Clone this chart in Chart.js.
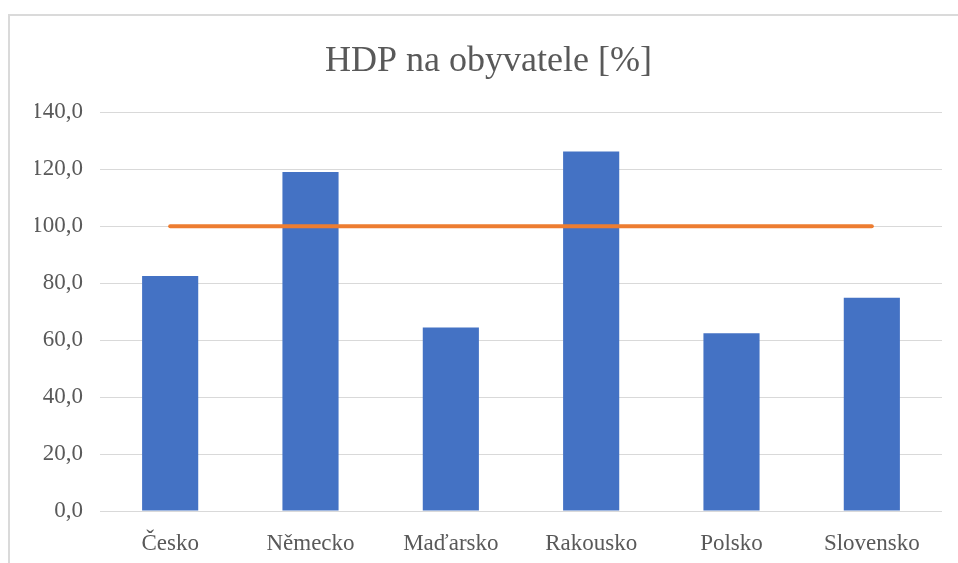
<!DOCTYPE html>
<html lang="cs">
<head>
<meta charset="utf-8">
<title>HDP na obyvatele [%]</title>
<script src="https://cdn.jsdelivr.net/npm/chart.js@4/dist/chart.umd.min.js"></script>
<style>
  html, body { margin: 0; padding: 0; background: #fff; overflow: hidden; }
  #frame {
    position: absolute; left: 8px; top: 14px; width: 2000px; height: 2000px;
    border-top: 2px solid #dadada; border-left: 2px solid #dadada;
    pointer-events: none;
  }
  #graf { position: absolute; left: 0; top: 0; }
</style>
</head>
<body>
<div id="frame"></div>
<canvas id="graf" width="958" height="563"></canvas>
<script>
/* ── data ─────────────────────────────────────────────── */
const zeme      = ['Česko', 'Německo', 'Maďarsko', 'Rakousko', 'Polsko', 'Slovensko'];
const hdpNaObyv = [82.5, 119.0, 64.4, 126.2, 62.4, 74.9];
const prumerEU  = [100, 100, 100, 100, 100, 100];
const osaY      = { min: 0, max: 140, krok: 20 };

/* ── styl ─────────────────────────────────────────────── */
const FONT  = "'Liberation Serif', 'DejaVu Serif', serif";
const TEXT  = '#595959';
const GRID  = '#d9d9d9';
const MODRA = '#4472C4';
const ORANZ = '#ED7D31';

const ctx = document.getElementById('graf').getContext('2d');

new Chart(ctx, {
  type: 'bar',
  data: {
    labels: zeme,
    datasets: [
      {
        type: 'line',
        label: 'EU = 100',
        data: prumerEU,
        borderColor: ORANZ,
        borderWidth: 4,
        borderCapStyle: 'round',
        pointRadius: 0,
        order: 0,
      },
      {
        type: 'bar',
        label: 'HDP na obyvatele',
        data: hdpNaObyv,
        backgroundColor: MODRA,
        categoryPercentage: 1,
        barPercentage: 0.4,
        order: 1,
      },
    ],
  },
  options: {
    responsive: false,
    animation: false,
    layout: { padding: { left: 35, right: 16, top: 22, bottom: 0 } },
    plugins: {
      legend: { display: false },
      tooltip: { enabled: false },
      title: {
        display: true,
        text: 'HDP na obyvatele [%]',
        color: TEXT,
        font: { family: FONT, size: 36, weight: 'normal' },
        padding: { top: 18, bottom: 29 },
      },
    },
    scales: {
      x: {
        grid: { display: false },
        border: { display: false },
        ticks: { color: TEXT, font: { family: FONT, size: 23 }, padding: 11, maxRotation: 0 },
        afterFit: s => { s.height = 52; },
      },
      y: {
        min: osaY.min,
        max: osaY.max,
        grid: { color: GRID, lineWidth: 1, drawTicks: false },
        border: { display: false },
        ticks: {
          stepSize: osaY.krok,
          color: TEXT,
          font: { family: FONT, size: 23 },
          padding: 17,
          callback: v => v.toFixed(1).replace('.', ','),
        },
        afterFit: s => { s.width = 65; },
      },
    },
  },
});
</script>
</body>
</html>
